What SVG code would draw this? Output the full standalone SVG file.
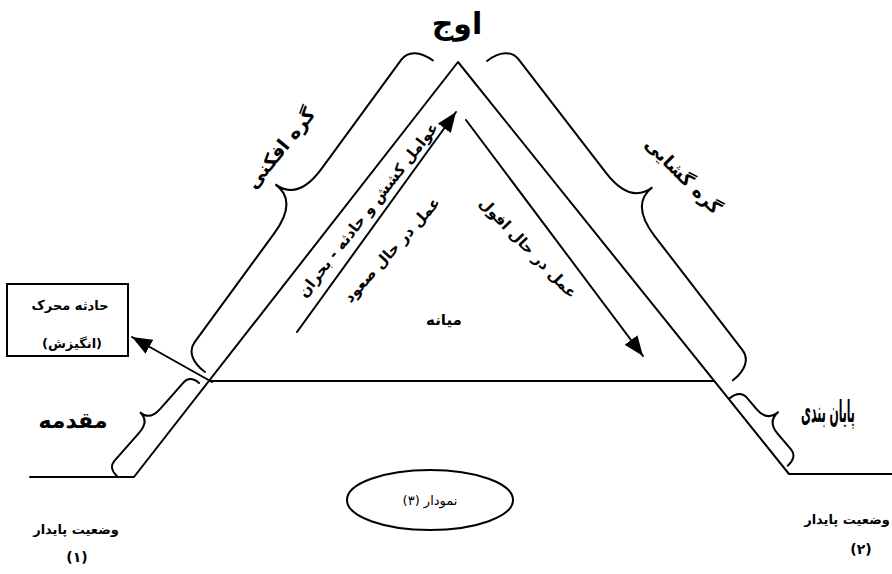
<svg xmlns="http://www.w3.org/2000/svg" width="892" height="574" viewBox="0 0 892 574">
<defs>
<style>
.ln{fill:none;stroke:#000;stroke-width:2;stroke-linecap:round;stroke-linejoin:round}
.br{fill:none;stroke:#000;stroke-width:2;stroke-linecap:round}
.t{font-family:"DejaVu Sans",sans-serif;fill:#000;direction:rtl;text-anchor:middle}
.b{font-weight:bold}
</style>
<marker id="ah" markerUnits="userSpaceOnUse" markerWidth="22" markerHeight="16" refX="20" refY="8" orient="auto">
<path d="M0,0 L20,8 L0,16 z" fill="#000"/>
</marker>
</defs>
<rect width="892" height="574" fill="#fff"/>

<g id="connectors">
<polyline class="ln" points="30,477 134,477 458,62 789,474 892,474"/>
<line class="ln" x1="210" y1="381" x2="714" y2="381"/>
<line class="ln" x1="297" y1="332" x2="456" y2="112" marker-end="url(#ah)"/>
<line class="ln" x1="466" y1="120" x2="643" y2="356" marker-end="url(#ah)"/>
<line class="ln" x1="212" y1="382" x2="132" y2="337" marker-end="url(#ah)"/>
</g>

<g id="brace-rising">
<path class="br" transform="translate(205,372) rotate(-53.8)" d="M0,0 C0,-16 7,-26 18,-26 L153,-26 Q193,-26 193,-54 Q193,-26 233,-26 L368,-26 C379,-26 386,-16 386,0"/>
<text class="t b" font-size="19" transform="translate(280,148) rotate(-51)" y="7">گره افکنی</text>
</g>

<g id="brace-falling">
<path class="br" transform="translate(487,61) rotate(52.4)" d="M0,0 C0,-16 7,-26 18,-26 L161,-26 Q201,-26 201,-54 Q201,-26 241,-26 L385,-26 C396,-26 403,-16 403,0"/>
<text class="t b" font-size="18" transform="translate(683,176) rotate(45)" y="6">گره گشایی</text>
</g>

<g id="brace-intro">
<path class="br" transform="translate(117,476) rotate(-48.6)" d="M0,0 C0,-8 4,-12 10,-12 L47,-12 Q63,-12 63,-25 Q63,-12 79,-12 L114,-12 C120,-12 124,-8 124,0"/>
<text class="t b" font-size="22" x="73" y="428">مقدمه</text>
</g>

<g id="brace-end">
<path class="br" transform="translate(730,398) rotate(49.5)" d="M0,0 C0,-8 4,-13 10,-13 L26,-13 Q42,-13 42,-28 Q42,-13 58,-13 L79,-13 C85,-13 89,-8 89,0"/>
<text class="t b" font-size="30" transform="translate(828,422) scale(0.36,1)">پایان بندی</text>
</g>

<g id="climax">
<text class="t b" font-size="30" x="457" y="34">اوج</text>
</g>

<g id="rising-action">
<text class="t b" font-size="15" transform="translate(368,210) rotate(-52)" y="5">عوامل کشش و حادثه - بحران</text>
<text class="t b" font-size="15" transform="translate(392,250) rotate(-48)" y="5">عمل در حال صعود</text>
</g>

<g id="falling-action">
<text class="t b" font-size="15" transform="translate(528,248) rotate(46)" y="5">عمل در حال افول</text>
</g>

<g id="middle">
<text class="t b" font-size="15" x="444" y="325">میانه</text>
</g>

<g id="inciting-incident">
<rect x="7" y="284" width="121" height="72" fill="#fff" stroke="#000" stroke-width="2"/>
<text class="t b" font-size="13" x="70" y="310">حادثه محرک</text>
<text class="t b" font-size="13" x="72" y="348">(انگیزش)</text>
</g>

<g id="stable-1">
<text class="t b" font-size="13" x="76" y="534">وضعیت پایدار</text>
<text class="t b" font-size="14" x="77" y="562">(۱)</text>
</g>

<g id="stable-2">
<text class="t b" font-size="13" x="847" y="524">وضعیت پایدار</text>
<text class="t b" font-size="14" x="861" y="554">(۲)</text>
</g>

<g id="figure-label">
<ellipse cx="430" cy="500" rx="83" ry="30" fill="none" stroke="#000" stroke-width="2"/>
<text class="t" font-size="13" x="430" y="505">نمودار (۳)</text>
</g>
</svg>
